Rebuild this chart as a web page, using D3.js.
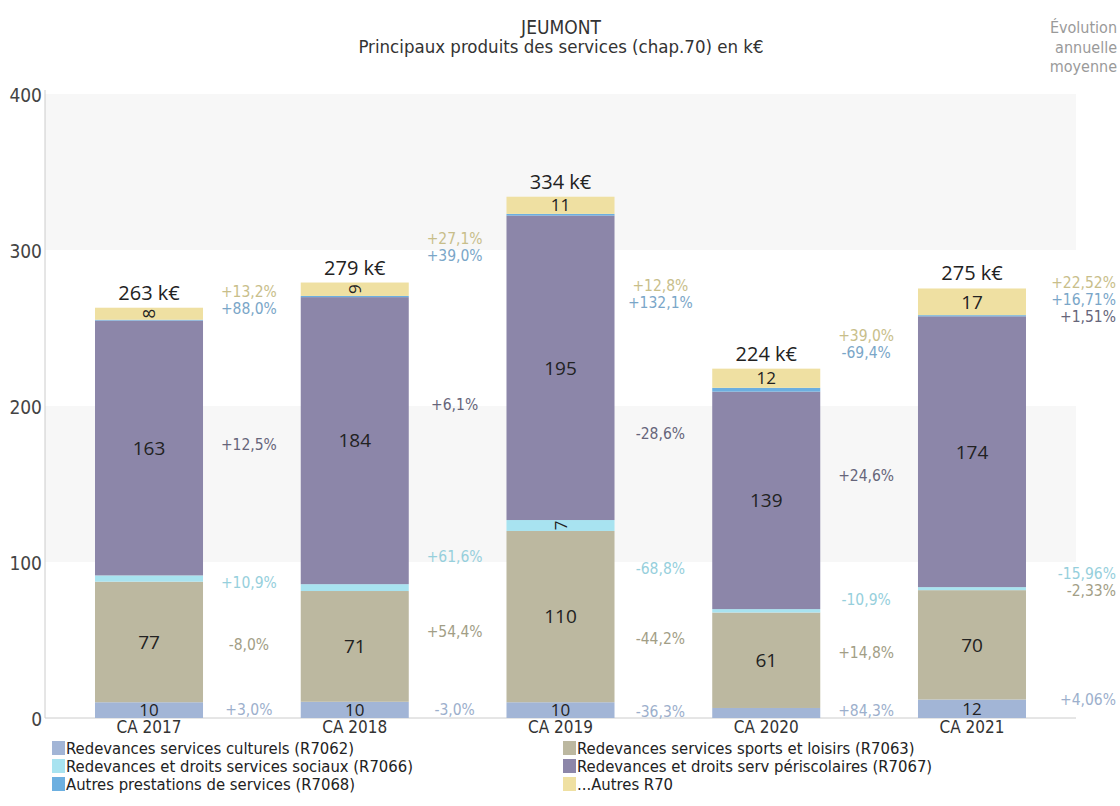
<!DOCTYPE html>
<html>
<head>
<meta charset="utf-8">
<script src="https://cdnjs.cloudflare.com/ajax/libs/d3/7.8.5/d3.min.js"></script>
<style>
	body { margin: 0; background: #fff; }
	text { font-family: 'DejaVu Sans Condensed', 'DejaVu Sans', sans-serif; }
	.num { font-family: 'Open Sans', sans-serif; }
	.evo { font-family: 'DejaVu Sans Condensed', sans-serif; }
</style>
</head>
<body>
<script>
// Data (k€)
var years = ['CA 2017', 'CA 2018', 'CA 2019', 'CA 2020', 'CA 2021'];
var seriesNames = [
	'Redevances services culturels (R7062)',
	'Redevances services sports et loisirs (R7063)',
	'Redevances et droits services sociaux (R7066)',
	'Redevances et droits serv périscolaires (R7067)',
	'Autres prestations de services (R7068)',
	'...Autres R70'
];
var culturels     = [10.1, 10.4, 10.1, 6.43, 11.85];
var sports        = [77.3, 71.0, 109.8, 61.2, 70.1];
var sociaux       = [4.0, 4.4, 7.0, 2.18, 1.945];
var periscolaires = [163.4, 184.0, 195.2, 139.4, 173.6];
var prestations   = [0.5, 0.75, 1.05, 2.43, 0.74];
var autresR70     = [7.7, 8.6, 11.0, 12.3, 17.1];

// growth labels between two consecutive years
var evoCulturels     = ['+3,0%', '-3,0%', '-36,3%', '+84,3%'];
var evoSports        = ['-8,0%', '+54,4%', '-44,2%', '+14,8%'];
var evoSociaux       = ['+10,9%', '+61,6%', '-68,8%', '-10,9%'];
var evoPeriscolaires = ['+12,5%', '+6,1%', '-28,6%', '+24,6%'];
var evoPrestations   = ['+88,0%', '+39,0%', '+132,1%', '-69,4%'];
var evoAutres        = ['+13,2%', '+27,1%', '+12,8%', '+39,0%'];
// average annual growth
var evoMoyenne = ['+4,06%', '-2,33%', '-15,96%', '+1,51%', '+16,71%', '+22,52%'];

var yTicks = [0, 100, 200, 300, 400];

var seriesValues = [culturels, sports, sociaux, periscolaires, prestations, autresR70];
var seriesEvo = [evoCulturels, evoSports, evoSociaux, evoPeriscolaires, evoPrestations, evoAutres];
var colors = ['#a2b5d6', '#bcb8a0', '#a8e3f0', '#8c86a9', '#6cafe0', '#efe0a2'];
var labelColors = ['#9cafcc', '#a29e86', '#96cfdc', '#66657a', '#7aa6c8', '#c8be8a'];

// table for the stack
var table = years.map(function(y, i) {
	var row = { year: y };
	seriesNames.forEach(function(s, k) { row[s] = seriesValues[k][i]; });
	return row;
});
var stacked = d3.stack().keys(seriesNames)(table);

var width = 1120, height = 806;
var svg = d3.select('body').append('svg')
	.attr('width', width)
	.attr('height', height);

var x = d3.scaleBand()
	.domain(years)
	.range([45, 1076])
	.paddingInner(0.475)
	.paddingOuter(0.243);
var y = d3.scaleLinear()
	.domain([0, 400])
	.range([718, 94]);

// background bands
svg.selectAll('.band')
	.data([[300, 400], [100, 200]])
	.enter().append('rect')
	.attr('x', x.range()[0])
	.attr('width', x.range()[1] - x.range()[0])
	.attr('y', function(d) { return y(d[1]); })
	.attr('height', function(d) { return y(d[0]) - y(d[1]); })
	.attr('fill', '#f7f7f7');

// Titles
svg.append('text')
	.attr('x', 561).attr('y', 34)
	.attr('text-anchor', 'middle')
	.style('font-size', '19px').style('fill', '#333')
	.text('JEUMONT');
svg.append('text')
	.attr('x', 561).attr('y', 53)
	.attr('text-anchor', 'middle')
	.style('font-size', '18.5px').style('fill', '#333')
	.text('Principaux produits des services (chap.70) en k€');
svg.selectAll('.evoTitle')
	.data(['Évolution', 'annuelle', 'moyenne'])
	.enter().append('text')
	.attr('x', 1117)
	.attr('y', function(d, i) { return 33 + i * 19.5; })
	.attr('text-anchor', 'end')
	.style('font-size', '16px').style('fill', '#9a9a9a')
	.text(function(d) { return d; });

// Axes
var yAxis = d3.axisLeft(y).tickValues(yTicks).tickSize(0).tickPadding(3);
var gy = svg.append('g')
	.attr('transform', 'translate(45,0)')
	.call(yAxis);
gy.select('.domain').remove();
gy.selectAll('text')
	.attr('dy', '0.42em')
	.style('font-family', "'DejaVu Sans Condensed', sans-serif")
	.style('font-size', '19px').style('fill', '#444');

svg.append('line')
	.attr('x1', 45).attr('x2', 45)
	.attr('y1', 90).attr('y2', y(0))
	.attr('stroke', '#ccc');
svg.append('line')
	.attr('x1', 45).attr('x2', x.range()[1])
	.attr('y1', y(0)).attr('y2', y(0))
	.attr('stroke', '#ccc');

// Bars
var layers = svg.selectAll('.layer')
	.data(stacked)
	.enter().append('g')
	.attr('fill', function(d, k) { return colors[k]; });
layers.selectAll('rect')
	.data(function(d) { return d; })
	.enter().append('rect')
	.attr('x', function(d) { return x(d.data.year); })
	.attr('width', x.bandwidth())
	.attr('y', function(d) { return y(d[1]); })
	.attr('height', function(d) { return y(d[0]) - y(d[1]); });

// Values inside segments
layers.selectAll('.val')
	.data(function(d) { return d; })
	.enter().append('text')
	.attr('class', 'num')
	.filter(function(d) { return y(d[0]) - y(d[1]) >= 10.5; })
	.attr('transform', function(d) {
		var cx = x(d.data.year) + x.bandwidth() / 2;
		var cy = (y(d[0]) + y(d[1])) / 2;
		var rot = (y(d[0]) - y(d[1]) < 15) ? -90 : 0;
		return 'translate(' + cx + ',' + cy + ') rotate(' + rot + ')';
	})
	.attr('dy', '0.36em')
	.attr('text-anchor', 'middle')
	.style('font-size', function(d) { return (y(d[0]) - y(d[1]) < 20) ? '17px' : '19px'; })
	.style('fill', '#222')
	.text(function(d) { return Math.round(d[1] - d[0]); });

// Totals
svg.selectAll('.total')
	.data(table)
	.enter().append('text')
	.attr('class', 'num')
	.attr('x', function(d) { return x(d.year) + x.bandwidth() / 2; })
	.attr('y', function(d, i) { return y(stacked[stacked.length - 1][i][1]) - 8; })
	.attr('text-anchor', 'middle')
	.style('font-size', '20px').style('fill', '#222')
	.text(function(d, i) { return Math.round(stacked[stacked.length - 1][i][1]) + ' k€'; });

// X axis labels
var xAxis = d3.axisBottom(x).tickSize(0).tickPadding(5);
var gx = svg.append('g')
	.attr('transform', 'translate(0,' + y(0) + ')')
	.call(xAxis);
gx.select('.domain').remove();
gx.selectAll('text')
	.attr('dy', '0.6em')
	.style('font-family', "'DejaVu Sans Condensed', sans-serif")
	.style('font-size', '17px').style('fill', '#333');

// push labels upward when they overlap
function spread(pos) {
	for (var k = 1; k < pos.length; k++) {
		if (pos[k] > pos[k - 1] - 17) pos[k] = pos[k - 1] - 17;
	}
	return pos;
}

// growth labels in gaps
for (var g = 0; g < years.length - 1; g++) {
	var gx0 = x(years[g]) + x.bandwidth();
	var gx1 = x(years[g + 1]);
	var pos = stacked.map(function(s) {
		var a = (y(s[g][0]) + y(s[g][1])) / 2;
		var b = (y(s[g + 1][0]) + y(s[g + 1][1])) / 2;
		return (a + b) / 2;
	});
	spread(pos);
	stacked.forEach(function(s, k) {
		svg.append('text')
			.attr('class', 'evo')
			.attr('x', (gx0 + gx1) / 2 - 3)
			.attr('y', pos[k])
			.attr('dy', '0.35em')
			.attr('text-anchor', 'middle')
			.style('font-size', '15.5px')
			.style('fill', labelColors[k])
			.text(seriesEvo[k][g]);
	});
}

// average annual growth on the right
var last = years.length - 1;
var posR = spread(stacked.map(function(s) { return y(s[last][1]); }));
stacked.forEach(function(s, k) {
	svg.append('text')
		.attr('class', 'evo')
		.attr('x', 1116)
		.attr('y', posR[k])
		.attr('dy', '0.35em')
		.attr('text-anchor', 'end')
		.style('font-size', '15.5px')
		.style('fill', labelColors[k])
		.text(evoMoyenne[k]);
});

// Legend
var legendOrder = [0, 2, 4, 1, 3, 5];
var legend = svg.selectAll('.legend')
	.data(legendOrder)
	.enter().append('g')
	.attr('transform', function(k, i) {
		var col = Math.floor(i / 3), row = i % 3;
		return 'translate(' + (col === 0 ? 52 : 563) + ',' + (748 + row * 18) + ')';
	});
legend.append('rect')
	.attr('x', 0).attr('y', -7)
	.attr('width', 13).attr('height', 14)
	.attr('fill', function(k) { return colors[k]; });
legend.append('text')
	.attr('x', 14)
	.attr('dy', '0.35em')
	.style('font-size', '16.5px').style('fill', '#222')
	.text(function(k) { return seriesNames[k]; });
</script>
</body>
</html>
